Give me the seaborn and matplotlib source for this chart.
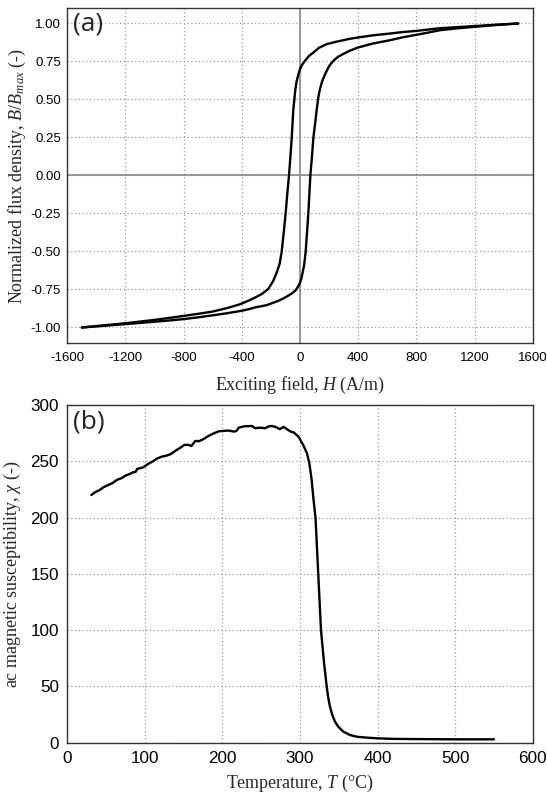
import numpy as np
import pandas as pd
import matplotlib
matplotlib.use("Agg")
import matplotlib.pyplot as plt
import seaborn as sns

# ---------------- data ----------------
# (a) hysteresis loop: descending (upper) branch
H_desc = [1500, 1350, 1200, 1080, 962, 880, 797, 700, 619, 500, 399, 340, 298, 240,
          183, 130, 92, 60, 34, 15, 0, -10, -23, -33, -39, -46, -57, -66, -76,
          -88, -99, -112, -126, -140, -160, -185, -218, -260, -309, -350, -412,
          -500, -600, -700, -802, -900, -1000, -1100, -1203, -1350, -1500]
B_desc = [1.0, 0.992, 0.983, 0.976, 0.969, 0.96, 0.951, 0.943, 0.934, 0.922, 0.908,
          0.899, 0.89, 0.878, 0.864, 0.84, 0.809, 0.785, 0.754, 0.73, 0.70, 0.67,
          0.622, 0.56, 0.50, 0.436, 0.25, 0.125, 0.0, -0.125, -0.25, -0.375, -0.50,
          -0.58, -0.638, -0.695, -0.746, -0.778, -0.803, -0.822, -0.847, -0.872,
          -0.895, -0.91, -0.924, -0.937, -0.95, -0.961, -0.972, -0.986, -1.0]
# (a) ascending (lower) branch
H_asc = [-1500, -1350, -1203, -1100, -1000, -900, -802, -700, -600, -500, -401,
         -350, -309, -229, -150, -115, -80, -57, -30, -11, 0, 10, 18, 28, 39, 48,
         57, 64, 71, 82, 92, 104, 115, 125, 137, 152, 172, 200, 229, 260, 298, 340,
         399, 500, 619, 700, 797, 880, 962, 1080, 1200, 1350, 1500]
B_asc = [-1.0, -0.989, -0.978, -0.97, -0.962, -0.954, -0.945, -0.933, -0.92, -0.906,
         -0.89, -0.879, -0.868, -0.853, -0.825, -0.809, -0.79, -0.777, -0.755,
         -0.727, -0.705, -0.675, -0.638, -0.59, -0.50, -0.375, -0.25, -0.125, 0.0,
         0.125, 0.25, 0.345, 0.436, 0.51, 0.568, 0.62, 0.666, 0.72, 0.754, 0.78,
         0.80, 0.82, 0.842, 0.868, 0.89, 0.908, 0.925, 0.94, 0.956, 0.968, 0.978,
         0.99, 1.0]

# (b) ac susceptibility vs temperature
T_vals = [31, 36, 42, 47, 53, 58, 64, 70, 75, 80, 85, 88, 90, 95, 98, 104, 111, 116,
          122, 127, 133, 140, 146, 151, 156, 160, 165, 170, 176, 182, 189, 195, 201,
          208, 215, 218, 221, 228, 238, 242, 248, 255, 260, 264, 270, 274, 279, 284,
          288, 292, 298, 304, 309, 312, 315, 317, 320, 323.5, 327, 331, 334.4, 336.5,
          338.6, 341.6, 345, 349.3, 355.8, 364.4, 373, 386, 399, 420, 450, 500, 550]
chi_vals = [220, 222.5, 224.5, 227, 229, 230.5, 233.4, 235, 237.2, 238.5, 240.2, 240.5,
            243.1, 244, 244.6, 247.5, 250.2, 252.5, 254.1, 254.8, 256.2, 259.5, 262.1,
            264.5, 264.5, 263.5, 268, 267.8, 269.8, 272.5, 274.8, 276.5, 276.9, 277.2,
            276.3, 276.8, 279.8, 281, 281.3, 279.3, 279.8, 279.3, 281, 281.3, 280,
            278.5, 280.5, 278, 276.3, 275.5, 271.8, 264.5, 257, 248.2, 233.4, 218.5,
            199.3, 149.6, 100.1, 70.5, 49.8, 39.4, 32, 24.6, 18.7, 14.2, 9.8, 6.8,
            5.3, 4.5, 3.9, 3.4, 3.2, 3.0, 3.0]

xticks_a = [-1600, -1200, -800, -400, 0, 400, 800, 1200, 1600]
yticks_a = [-1.00, -0.75, -0.50, -0.25, 0.00, 0.25, 0.50, 0.75, 1.00]
xticks_b = [0, 100, 200, 300, 400, 500, 600]
yticks_b = [0, 50, 100, 150, 200, 250, 300]

# ---------------- style ----------------
sns.set_theme(style="white")
plt.rcParams["font.family"] = ["Liberation Sans", "DejaVu Sans"]
plt.rcParams["mathtext.fontset"] = "custom"
plt.rcParams["mathtext.rm"] = "Liberation Serif"
plt.rcParams["mathtext.it"] = "Liberation Serif:italic"
plt.rcParams["mathtext.default"] = "it"

fig = plt.figure(figsize=(5.47, 8.05), dpi=100)
ax_a = fig.add_axes([0.123, 0.5743, 0.851, 0.4154])
ax_b = fig.add_axes([0.123, 0.0774, 0.851, 0.4196])

serif = "Liberation Serif"
line_kw = dict(color="black", linewidth=1.7, sort=False, estimator=None)

# ---- panel (a)
df_desc = pd.DataFrame({"H": H_desc, "B": B_desc})
df_asc = pd.DataFrame({"H": H_asc, "B": B_asc})
ax_a.axhline(0, color="#888888", lw=1.2, zorder=1)
ax_a.axvline(0, color="#888888", lw=1.2, zorder=1)
sns.lineplot(data=df_desc, x="H", y="B", ax=ax_a, **line_kw)
sns.lineplot(data=df_asc, x="H", y="B", ax=ax_a, **line_kw)
ax_a.set_xlim(-1600, 1600)
ax_a.set_ylim(-1.1, 1.1)
ax_a.set_xticks(xticks_a)
ax_a.set_xticklabels([str(v) for v in xticks_a])
ax_a.set_yticks(yticks_a)
ax_a.set_yticklabels([f"{v:.2f}" for v in yticks_a])
ax_a.tick_params(axis="both", labelsize=9.5, colors="#333333", length=3, width=0.8,
                 direction="out", pad=1.5, labelcolor="black")
ax_a.tick_params(axis="x", pad=4)
ax_a.set_xlabel("Exciting field, $H$ (A/m)", fontsize=13, fontfamily=serif)
ax_a.set_ylabel("Normalized flux density, $B/B_{max}$ (-)", fontsize=13, fontfamily=serif)
ax_a.text(0.012, 0.99, "(a)", transform=ax_a.transAxes, fontsize=19,
          fontfamily="Open Sans", va="top", ha="left")

# ---- panel (b)
df_b = pd.DataFrame({"T": T_vals, "chi": chi_vals})
sns.lineplot(data=df_b, x="T", y="chi", ax=ax_b, **line_kw)
ax_b.set_xlim(0, 600)
ax_b.set_ylim(0, 300)
ax_b.set_xticks(xticks_b)
ax_b.set_yticks(yticks_b)
ax_b.tick_params(axis="both", labelsize=12.3, colors="#333333", length=3, width=0.8,
                 direction="in", pad=6, labelcolor="black")
ax_b.set_xlabel("Temperature, $T$ (°C)", fontsize=13, fontfamily=serif)
ax_b.set_ylabel("ac magnetic susceptibility, $\\chi$ (-)", fontsize=13, fontfamily=serif)
ax_b.text(0.012, 0.985, "(b)", transform=ax_b.transAxes, fontsize=19,
          fontfamily="Open Sans", va="top", ha="left")

for ax in (ax_a, ax_b):
    ax.grid(True, linestyle=(0, (1, 2)), color="#999999", linewidth=0.9)
    ax.set_axisbelow(True)
    for s in ax.spines.values():
        s.set_color("#333333")
        s.set_linewidth(1.0)
    ax.xaxis.set_label_coords(0.5, -0.095 if ax is ax_a else -0.09)

ax_a.yaxis.set_label_coords(-0.085, 0.5)
ax_b.yaxis.set_label_coords(-0.095, 0.5)

fig.savefig("out.png", dpi=100)
